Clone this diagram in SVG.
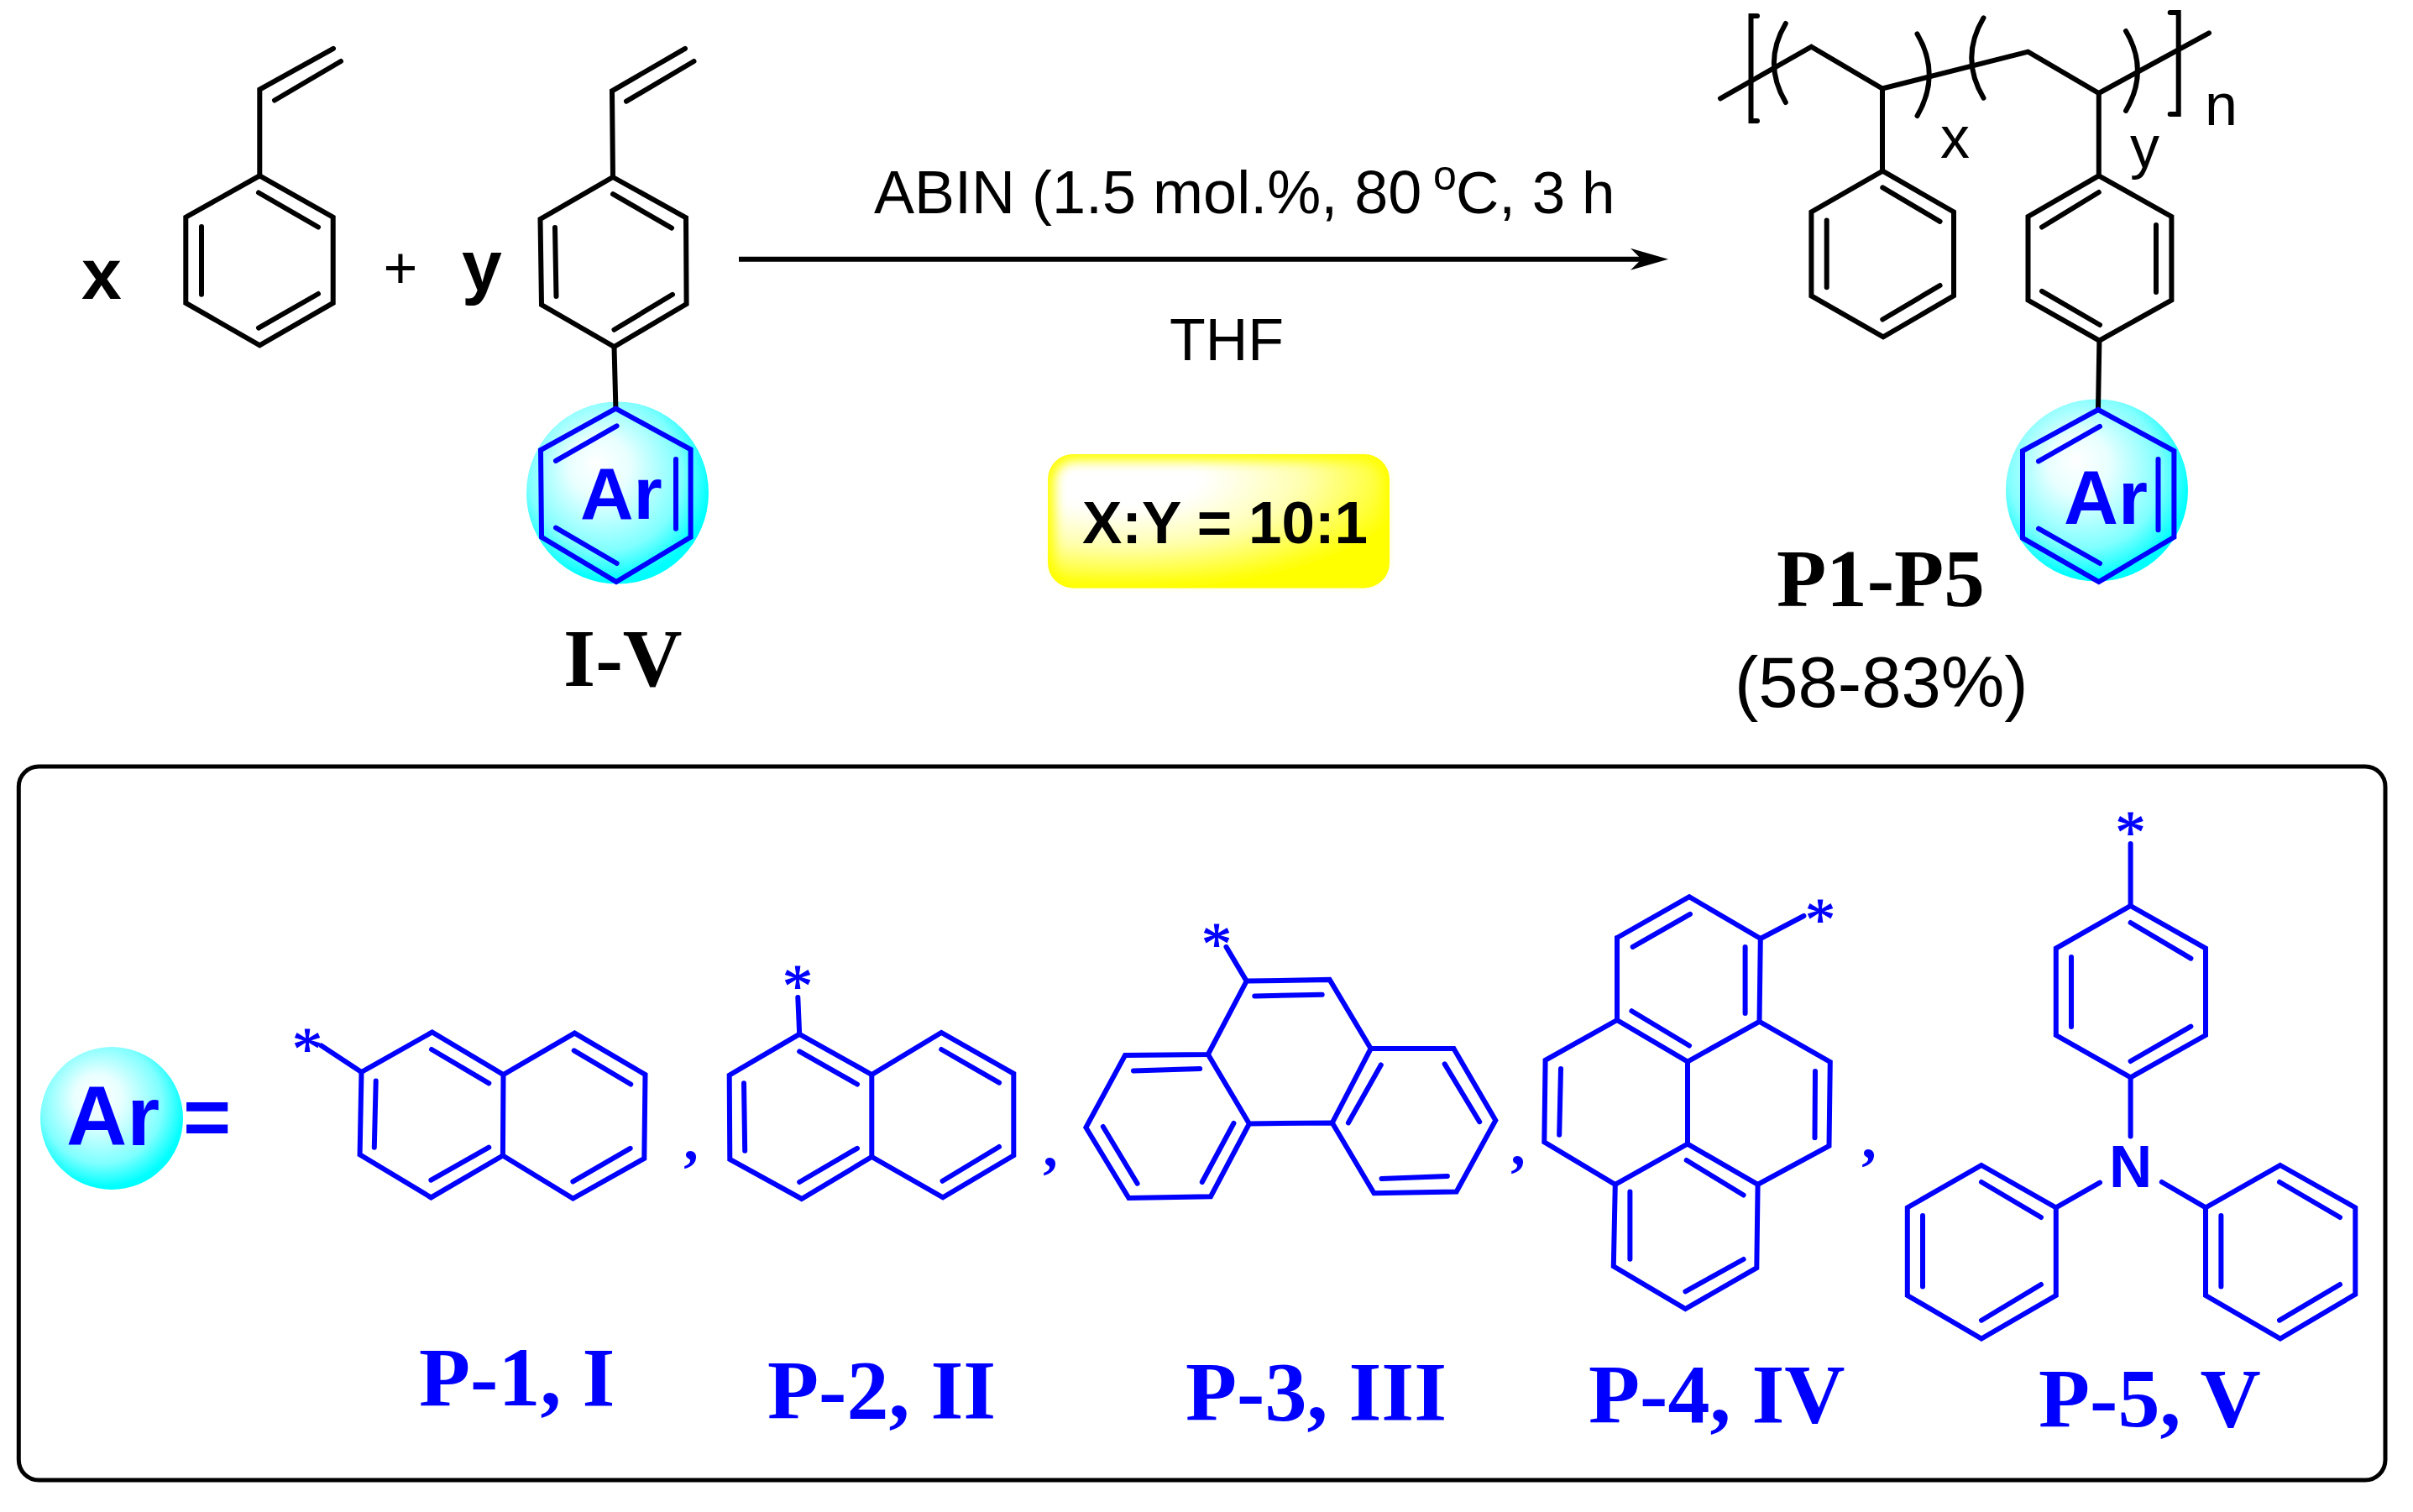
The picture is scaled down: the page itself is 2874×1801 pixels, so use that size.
<svg xmlns="http://www.w3.org/2000/svg" width="2874" height="1801" viewBox="0 0 2874 1801">
<style>
.k{fill:none;stroke:#000;stroke-width:6;stroke-linejoin:miter;stroke-linecap:round}
.b{fill:none;stroke:#00f;stroke-width:6;stroke-linejoin:miter;stroke-linecap:round}
.sa{font-family:"Liberation Sans",Arial,sans-serif;fill:#000}
.sab{font-family:"Liberation Sans",Arial,sans-serif;font-weight:700;fill:#000}
.ar{font-family:"Liberation Sans",Arial,sans-serif;font-weight:700;fill:#00f}
.se{font-family:"Liberation Serif","Times New Roman",serif;font-weight:700;fill:#000}
.seb{font-family:"Liberation Serif","Times New Roman",serif;font-weight:700;fill:#00f;font-size:100px}
.st{font-family:"Liberation Serif","Times New Roman",serif;fill:#00f;stroke:#00f;stroke-width:1;font-size:72px;text-anchor:middle}
.cm{font-family:"Liberation Serif","Times New Roman",serif;font-weight:700;fill:#00f;font-size:70px;text-anchor:middle}
</style>
<defs>
<radialGradient id="ball" cx="0.45" cy="0.42" r="0.56" fx="0.38" fy="0.33">
<stop offset="0" stop-color="#fff"/><stop offset="0.3" stop-color="#e8ffff"/><stop offset="0.75" stop-color="#80ffff"/><stop offset="1" stop-color="#0ff"/>
</radialGradient>
<radialGradient id="yel" cx="0.2" cy="0.15" r="0.9" gradientUnits="objectBoundingBox">
<stop offset="0" stop-color="#fff"/><stop offset="0.28" stop-color="#fff"/><stop offset="0.62" stop-color="#ffffb0"/><stop offset="1" stop-color="#ff0"/>
</radialGradient>
<filter id="soft" x="-10%" y="-10%" width="120%" height="120%"><feGaussianBlur stdDeviation="7"/></filter>
<marker id="head" markerUnits="userSpaceOnUse" markerWidth="50" markerHeight="30" refX="18" refY="13" orient="auto" overflow="visible">
<path d="M45 13L0 0L13 13L0 26Z" fill="#000"/>
</marker>
</defs>
<rect width="2874" height="1801" fill="#fff"/>

<g id="styrene">
<path class="k" d="M309.3 209.3L396.7 258.7V360.9L309.3 411.4L221.3 360.9V258.7Z"/>
<path class="k" d="M308 229.5L379 270.5M240 270V350.8M308 390.6L379 350M309.3 209.3V106.6L397 57.8M327 119.5L406 73"/>
<text class="sab" x="97" y="356" font-size="86">x</text>
</g>
<text id="plus" class="sa" x="477" y="343" font-size="70" text-anchor="middle">+</text>

<g id="monomer">
<circle cx="735.5" cy="587" r="108.5" fill="url(#ball)"/>
<path class="k" d="M730 211L817 259.3L817.6 362L731.5 413L645 363L643.5 261Z"/>
<path class="k" d="M730 231.2L800 271.6M661 271L662.5 353M731.5 392.8L801 350.8M730 211L729 108.3L816 57.8M746 120.7L826.5 73M731.5 413L733.4 485.4"/>
<path class="b" d="M733.4 486.6L822.6 535.4V639.8L734 693L645 639.8L644 536Z"/>
<path class="b" d="M662 548.9L734.6 507.3M805 547V629.7M662 628.6L734.6 671"/>
<text class="ar" x="691" y="618.4" font-size="88">Ar</text>
<text class="sab" x="550" y="346" font-size="86">y</text>
<text class="se" x="671" y="816.5" font-size="98">I-V</text>
</g>

<g id="connectors">
<line x1="880" y1="308.7" x2="1960" y2="308.7" stroke="#000" stroke-width="6" marker-end="url(#head)"/>
</g>

<g id="conditions">
<text class="sa" x="1041" y="254" font-size="72">ABIN (1.5 mol.%, 80</text>
<text class="sa" x="1707" y="226" font-size="50">o</text>
<text class="sa" x="1734" y="254" font-size="71">C, 3 h</text>
<text class="sa" x="1393" y="429" font-size="70">THF</text>
</g>

<g id="ratio">
<rect x="1248" y="541" width="407" height="159.4" rx="30" fill="#ff0"/>
<rect x="1256" y="549" width="391" height="143" rx="24" fill="url(#yel)" filter="url(#soft)"/>
<text class="sab" x="1289" y="646.5" font-size="71">X:Y = 10:1</text>
</g>

<g id="polymer">
<circle cx="2497.5" cy="584" r="108.5" fill="url(#ball)"/>
<path class="k" d="M2049 117.3L2157.4 55.6L2242 105.5L2415.5 61.7L2499.8 111L2631 39.3"/>
<path class="k" d="M2093 19H2085.5V144H2093M2584.7 15H2594.7V136H2584.7"/>
<path class="k" d="M2126.8 28Q2099 75 2126.8 122M2283.5 40.4Q2312 89 2283.5 138M2362.5 21.3Q2334 69 2362.5 116.7M2532 37Q2560 84 2532 131.9"/>
<path class="k" d="M2242.3 203.7L2327 252.5V352.4L2243 401.3L2157.4 352.4V252.5Z"/>
<path class="k" d="M2242.3 223.4L2310.6 263.8M2175.7 262.6V342.3M2242.3 380.5L2310.6 340M2242 105.5V203.7"/>
<path class="k" d="M2499.8 209.3L2586.4 258V357.5L2500.4 405.7L2415.5 357.5V258Z"/>
<path class="k" d="M2499.8 229L2432 270.5M2568 268V348M2501 387L2432 346.8M2499.8 111V209.3M2500.4 405.7L2499 487"/>
<path class="b" d="M2499 488L2589.4 537V639.8L2499.8 693L2409 640.9V537Z"/>
<path class="b" d="M2501 507.9L2428 549.4M2570.5 547V631.3M2428 629.7L2501 671"/>
<text class="ar" x="2458" y="624" font-size="90">Ar</text>
<text class="sa" x="2311" y="188" font-size="70">x</text>
<text class="sa" x="2537" y="199" font-size="70">y</text>
<text class="sa" x="2626" y="149" font-size="70">n</text>
<text class="se" x="2116" y="722" font-size="97">P1-P5</text>
<text class="sa" x="2066" y="842" font-size="85">(58-83%)</text>
</g>

<g id="panel">
<rect x="22.3" y="913" width="2818.7" height="850" rx="24" fill="none" stroke="#000" stroke-width="5"/>
</g>

<g id="ar-key">
<circle cx="133" cy="1332" r="85" fill="url(#ball)"/>
<text class="ar" x="79" y="1364" font-size="100">Ar</text>
<text class="ar" x="218" y="1364" font-size="98">=</text>
</g>

<g id="p1">
<path class="b" d="M430.5 1277L514.7 1229.5L599.5 1280L684.4 1230.6L768.5 1280L767.3 1379.9L682.4 1427.5L598.9 1376.4L513.4 1426.4L428.6 1375.3Z"/>
<path class="b" d="M599.5 1280L598.9 1376.4M447.7 1287.5L445.8 1366.7M514 1250L582.3 1290.3M513.4 1405.7L582.3 1366.7M683.7 1251.3L751.3 1291.5M682.4 1407.4L750.7 1367.8M430.5 1277L382.7 1245.5"/>
<text class="st" x="366" y="1273">*</text>
<text class="seb" x="499" y="1674">P-1, I</text>
</g>
<text class="cm" x="823" y="1381">,</text>

<g id="p2">
<path class="b" d="M952.2 1231.8L1038.3 1280L1121.2 1230L1207.3 1278.8V1376.4L1123 1426.4L1038.3 1378L954.8 1428L869.3 1381L868.7 1280.6Z"/>
<path class="b" d="M1038.3 1280V1378M886 1290.3L887.2 1370.7M952.2 1252.4L1021 1291.5M952.2 1408L1021 1367.8M1121.2 1250L1190 1289.7M1122.5 1406.8L1190 1366M952.2 1231.8L950.3 1188"/>
<text class="st" x="950" y="1198">*</text>
<text class="seb" x="914" y="1689">P-2, II</text>
</g>
<text class="cm" x="1251" y="1389">,</text>

<g id="p3">
<path class="b" d="M1484.7 1168.6L1583.6 1166.9L1632.7 1249L1731.5 1249L1781.3 1334.5L1734.7 1419.5L1636.5 1421.2L1586.8 1337.4L1487.9 1338.5L1442 1425.2L1344.4 1427L1293.4 1343L1340 1257L1438.8 1255.9Z"/>
<path class="b" d="M1632.7 1249L1586.8 1337.4M1438.8 1255.9L1487.9 1338.5M1494.3 1186.4L1574.7 1184.7M1350 1275.4L1429.2 1273M1313.8 1342L1354.6 1409.7M1431.8 1408L1469.4 1338M1605.9 1337.4L1644.8 1268.5M1720.7 1267.4L1762.2 1336.2M1645.5 1404L1723.9 1401M1484.7 1168.6L1460.5 1127.9"/>
<text class="st" x="1449" y="1148">*</text>
<text class="seb" x="1412" y="1691">P-3, III</text>
</g>
<text class="cm" x="1808" y="1387">,</text>

<g id="p4">
<path class="b" d="M1926 1117L2012 1068.2L2096.8 1118L2095.5 1216.8L2179.8 1265L2178.5 1365L2093.6 1410.9L2092.3 1510.2L2007.4 1559L1921.8 1508.4L1923.8 1410.9L1839.3 1360.3L1840.6 1262.8L1926 1215Z"/>
<path class="b" d="M1926 1117V1215L2010 1264.5L2095.5 1216.8M2010 1264.5V1362.6L1923.8 1410.9M2010 1362.6L2093.6 1410.9M1859 1273L1857.2 1351.7M1944.7 1127.9L2013 1088.8M2078.6 1127.9V1207M1943.4 1204.2L2012 1245.5M2162 1276L2161.5 1355.2M2008.7 1382L2076.6 1423.5M1941.4 1419.5V1499.8M2007.4 1538.3L2076.6 1500M2096.8 1118L2148.4 1091"/>
<text class="st" x="2168" y="1119">*</text>
<text class="seb" x="1892" y="1694">P-4, IV</text>
</g>
<text class="cm" x="2226" y="1379">,</text>

<g id="p5">
<path class="b" d="M2537.6 1079L2627 1129.6V1233L2537.6 1283.4L2448.8 1233V1129.6Z"/>
<path class="b" d="M2537.6 1099L2609.4 1141.7M2467 1140V1223M2537.6 1264L2609.4 1222.6M2537.6 1079V1005M2537.6 1283.4V1353.5"/>
<path class="b" d="M2360 1388L2448.8 1438.4V1543L2360 1594.5L2271.8 1543V1438.4Z"/>
<path class="b" d="M2360 1408L2431 1450M2290 1448V1532.5M2360 1572.7L2431 1530M2448.8 1438.4L2501 1408.6"/>
<path class="b" d="M2715.9 1388L2805.3 1438.4V1541.7L2715.9 1594.5L2627 1543V1438.4Z"/>
<path class="b" d="M2715 1408L2787 1450M2645.4 1448V1532.5M2715 1572.7L2787 1530M2627 1438.4L2574.8 1408"/>
<text class="ar" x="2512" y="1414" font-size="71">N</text>
<text class="st" x="2537.6" y="1015">*</text>
<text class="seb" x="2428" y="1699">P-5, V</text>
</g>
</svg>
